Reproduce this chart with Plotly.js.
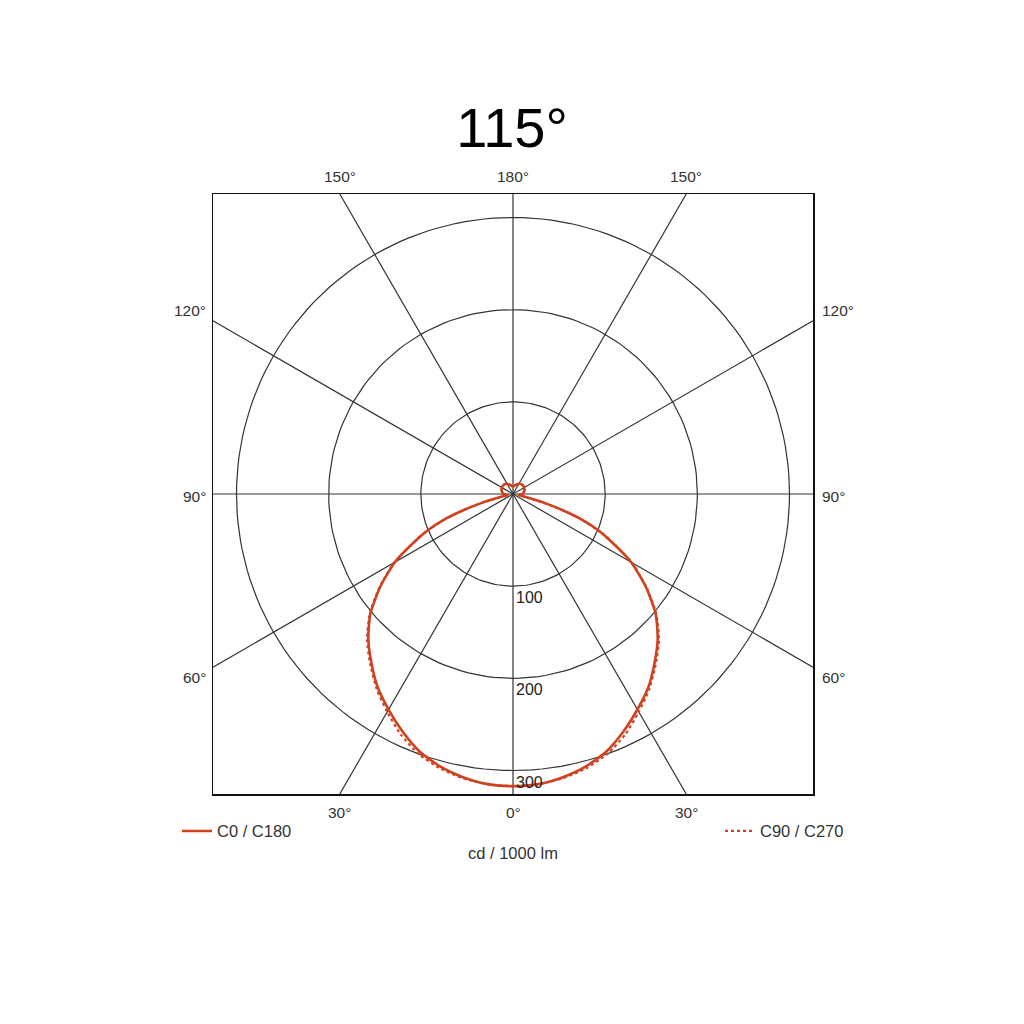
<!DOCTYPE html>
<html>
<head>
<meta charset="utf-8">
<script src="https://cdn.plot.ly/plotly-3.0.1.min.js"></script>
<style>
  html, body { margin: 0; padding: 0; background: #fff; }
  #chart { width: 1024px; height: 1024px; }
</style>
</head>
<body>
<div id="chart"></div>
<script>
// gamma angle (deg from nadir) and intensity in cd / 1000 lm
var gamma = [0, 5, 10, 15, 20, 25, 30, 35, 40, 45, 50, 55, 60, 65, 67, 70, 72, 74, 76, 78, 80, 85, 90, 100, 120, 140, 160, 170, 180];
var c0c180 = [317, 316, 312, 306, 297, 284, 270, 256, 239, 222, 202, 176, 148, 113, 100, 76, 56, 36, 16, 8, 6, 8, 10, 12, 14, 14, 11, 9, 8];
var c90c270 = [317, 316, 313, 308, 300, 288, 273, 258, 241, 224, 203, 177, 149, 114, 100, 76, 56, 36, 16, 8, 6, 8, 10, 12, 14, 14, 11, 9, 8];

var ringValues = [100, 200, 300];
var spokeAngles = [0, 30, 60, 90, 120, 150];
var labelAngles = [0, 30, 60, 90, 120, 150, 180];
var seriesNames = ['C0 / C180', 'C90 / C270'];
var unitLabel = 'cd / 1000 lm';
var titleText = '115°';

var R = 325.5;          // half width of the square frame, in cd/klm
var RED = '#d0421f';
var GRID = '#333333';
var FONT = 'Liberation Sans, Arial, sans-serif';

var rad = function (d) { return d * Math.PI / 180; };

// left half runs 180 -> 0, right half 0 -> 180
function curve(vals) {
    var x = [], y = [];
    for (var i = gamma.length - 1; i >= 0; i--) {
        x.push(-vals[i] * Math.sin(rad(gamma[i])));
        y.push(-vals[i] * Math.cos(rad(gamma[i])));
    }
    for (var j = 1; j < gamma.length; j++) {
        x.push(vals[j] * Math.sin(rad(gamma[j])));
        y.push(-vals[j] * Math.cos(rad(gamma[j])));
    }
    return { x: x, y: y };
}

// spokes through the centre, clipped at the frame
var sx = [], sy = [];
spokeAngles.forEach(function (a) {
    var s = Math.sin(rad(a)), c = Math.cos(rad(a));
    var t = R / Math.max(Math.abs(s), Math.abs(c));
    sx.push(-s * t, s * t, null);
    sy.push(-c * t, c * t, null);
});

// rings
var rx = [], ry = [];
ringValues.forEach(function (v) {
    for (var k = 0; k <= 360; k += 2) {
        rx.push(v * Math.cos(rad(k)));
        ry.push(v * Math.sin(rad(k)));
    }
    rx.push(null); ry.push(null);
});

var cA = curve(c0c180);
var cB = curve(c90c270);

var traces = [
    { x: rx, y: ry, mode: 'lines', line: { color: GRID, width: 1.2 }, showlegend: false, hoverinfo: 'skip' },
    { x: sx, y: sy, mode: 'lines', line: { color: GRID, width: 1.2 }, showlegend: false, hoverinfo: 'skip' },
    { x: cB.x, y: cB.y, mode: 'lines', name: seriesNames[1], legend: 'legend2',
      line: { color: RED, width: 2.2, dash: 'dot', shape: 'spline', smoothing: 0.6 } },
    { x: cA.x, y: cA.y, mode: 'lines', name: seriesNames[0], legend: 'legend',
      line: { color: RED, width: 2.6, shape: 'spline', smoothing: 0.6 } }
];

var annotations = [];
var toPaper = function (v) { return (v + R) / (2 * R); };

labelAngles.forEach(function (a) {
    var sides = (a === 0 || a === 180) ? [1] : [-1, 1];
    sides.forEach(function (side) {
        var s = Math.sin(rad(a)) * (a === 0 || a === 180 ? 0 : side);
        var c = -Math.cos(rad(a));
        var t = R / Math.max(Math.abs(s), Math.abs(c));
        var px = s * t, py = c * t;
        var ann = {
            xref: 'paper', yref: 'paper', x: toPaper(px), y: toPaper(py),
            text: a + '°', showarrow: false,
            font: { family: FONT, size: 15.5, color: '#333' }
        };
        if (Math.abs(Math.cos(rad(a))) >= Math.abs(Math.sin(rad(a))) - 1e-9 && a !== 90) {
            ann.xanchor = 'center';
            ann.yanchor = 'middle';
            ann.yshift = py > 0 ? 18 : -18;
        } else {
            ann.xanchor = side < 0 ? 'right' : 'left';
            ann.xshift = side < 0 ? -5 : 7;
            ann.yanchor = 'middle';
            ann.yshift = py > 1 ? 10 : (py < -1 ? -10 : -2);
        }
        annotations.push(ann);
    });
});

ringValues.forEach(function (v) {
    annotations.push({
        x: 0, y: -v, xref: 'x', yref: 'y', text: String(v), showarrow: false,
        xanchor: 'left', yanchor: 'top', xshift: 1, yshift: -1,
        font: { family: FONT, size: 16, color: '#222' }
    });
});

annotations.push({
    xref: 'paper', yref: 'paper', x: 0.5, y: -0.098, xanchor: 'center', yanchor: 'middle',
    text: unitLabel, showarrow: false, font: { family: FONT, size: 16.5, color: '#333' }
});

var axis = {
    range: [-R, R], showgrid: false, zeroline: false, showticklabels: false, ticks: '',
    showline: true, mirror: true, linecolor: '#111', linewidth: 1.5, fixedrange: true
};

var layout = {
    width: 1024,
    height: 1024,
    margin: { l: 213, r: 211, t: 194, b: 230, pad: 0 },
    paper_bgcolor: '#fff',
    plot_bgcolor: '#fff',
    title: {
        text: titleText, x: 0.5, xanchor: 'center', y: 1 - 127 / 1024, yanchor: 'middle',
        yref: 'container', font: { family: FONT, size: 56, color: '#000' }
    },
    xaxis: axis,
    yaxis: Object.assign({}, axis),
    annotations: annotations,
    legend: {
        x: -0.06, xanchor: 'left', y: -0.062, yanchor: 'middle',
        bgcolor: 'rgba(0,0,0,0)', font: { family: FONT, size: 16.5, color: '#333' }
    },
    legend2: {
        x: 1.06, xanchor: 'right', y: -0.062, yanchor: 'middle',
        bgcolor: 'rgba(0,0,0,0)', font: { family: FONT, size: 16.5, color: '#333' }
    },
    showlegend: true
};

Plotly.newPlot('chart', traces, layout, { staticPlot: true });
</script>
</body>
</html>
